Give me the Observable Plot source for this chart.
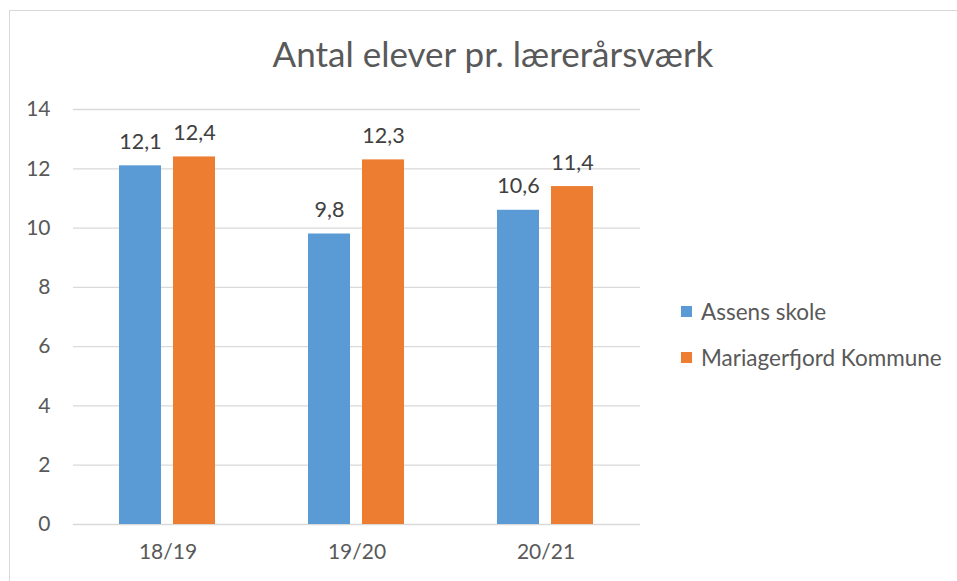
<!DOCTYPE html>
<html>
<head>
<meta charset="utf-8">
<script src="https://cdn.jsdelivr.net/npm/d3@7"></script>
<script src="https://cdn.jsdelivr.net/npm/@observablehq/plot@0.6"></script>
<style>
  html, body { margin: 0; padding: 0; background: #fff; }
  #wrap { position: relative; width: 957px; height: 581px; overflow: hidden; font-family: Lato, sans-serif; }
  #border { position: absolute; left: 9px; top: 10px; right: -5px; bottom: -5px; border-top: 1.5px solid #d9d9d9; border-left: 1.5px solid #d9d9d9; }
  #title { position: absolute; left: 193px; width: 600px; top: 33px; text-align: center; font-size: 35px; line-height: 40px; color: #595959; white-space: nowrap; }
  #chart { position: absolute; left: 0; top: 0; }
  #legend { position: absolute; left: 681px; top: 288px; font-size: 22.5px; color: #595959; }
  .item { display: flex; align-items: center; height: 46px; white-space: nowrap; }
  .sw { width: 11px; height: 11px; margin-right: 9px; }
</style>
</head>
<body>
<div id="wrap">
  <div id="border"></div>
  <div id="chart"></div>
  <div id="title"></div>
  <div id="legend"></div>
</div>
<script>
const title = "Antal elever pr. lærerårsværk";
const categories = ["18/19", "19/20", "20/21"];
const seriesNames = ["Assens skole", "Mariagerfjord Kommune"];
const assens = [12.1, 9.8, 10.6];
const mariagerfjord = [12.4, 12.3, 11.4];
const yTicks = [0, 2, 4, 6, 8, 10, 12, 14];
const colors = ["#5B9BD5", "#ED7D31"];

const table = [];
categories.forEach((c, i) => {
  table.push({cat: c, series: seriesNames[0], value: assens[i]});
  table.push({cat: c, series: seriesNames[1], value: mariagerfjord[i]});
});

const fmt = v => v.toFixed(1).replace(".", ",");

const chart = Plot.plot({
  width: 957,
  height: 581,
  marginLeft: 73,
  marginRight: 317,
  marginTop: 109,
  marginBottom: 57,
  style: {fontFamily: "Lato, sans-serif", fontSize: "21px", color: "#595959", background: "transparent"},
  facet: {data: table, x: "cat"},
  fx: {domain: categories, padding: 0, label: null, tickSize: 0, tickPadding: 20, axis: "bottom"},
  x: {domain: seriesNames, axis: null, paddingInner: 0.222, paddingOuter: 0.861},
  y: {domain: [0, 14], ticks: yTicks, tickSize: 0, tickPadding: 23, label: null, tickFormat: d => d},
  color: {domain: seriesNames, range: colors},
  marks: [
    Plot.ruleY(yTicks, {stroke: "#d9d9d9", strokeWidth: 1.3}),
    Plot.barY(table, {x: "series", y: "value", fill: "series"}),
    Plot.text(table, {x: "series", y: "value", text: d => fmt(d.value), lineAnchor: "bottom", dy: -17, fill: "#404040", fontSize: 21.5})
  ]
});
document.getElementById("chart").appendChild(chart);
document.getElementById("title").textContent = title;
const legend = document.getElementById("legend");
seriesNames.forEach((s, i) => {
  const it = document.createElement("div");
  it.className = "item";
  const sw = document.createElement("div");
  sw.className = "sw";
  sw.style.background = colors[i];
  const tx = document.createElement("span");
  tx.textContent = s;
  it.appendChild(sw); it.appendChild(tx);
  legend.appendChild(it);
});
</script>
</body>
</html>
